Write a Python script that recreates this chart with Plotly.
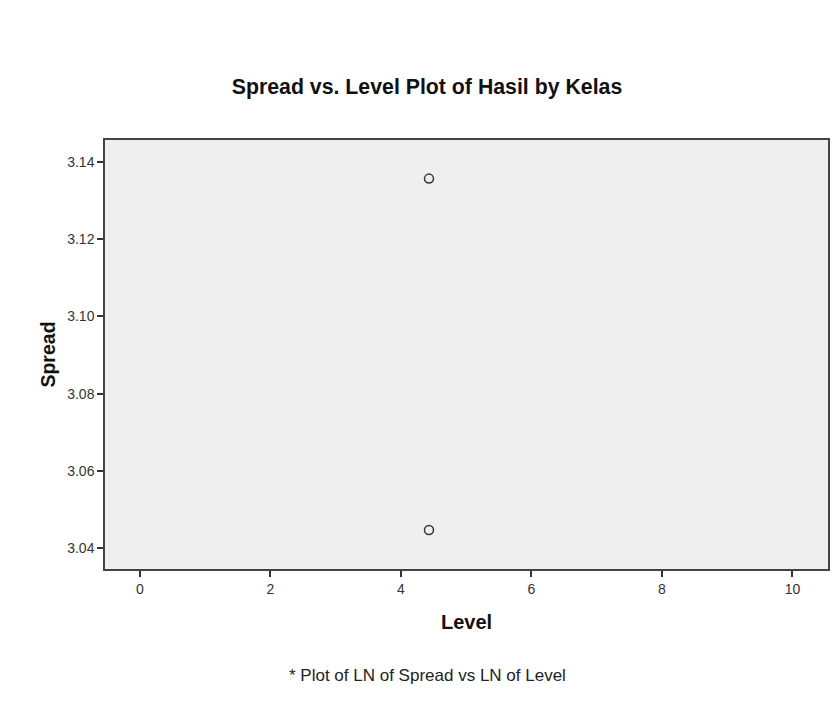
import plotly.graph_objects as go

level = [4.43, 4.43]
spread = [3.1357, 3.0447]
x_ticks = [0, 2, 4, 6, 8, 10]
y_ticks = [3.04, 3.06, 3.08, 3.10, 3.12, 3.14]
y_labels = ["3.04", "3.06", "3.08", "3.10", "3.12", "3.14"]

fig = go.Figure()
fig.add_trace(go.Scatter(
    x=level, y=spread, mode="markers",
    marker=dict(symbol="circle-open", size=9, color="#333333", line=dict(width=1.5, color="#333333")),
    showlegend=False, hoverinfo="skip"))

fig.update_layout(
    width=833, height=702,
    paper_bgcolor="white", plot_bgcolor="#efefef",
    margin=dict(l=105, r=3, t=140, b=133),
    font=dict(family="Liberation Sans, Arial", color="#222222"),
    title=dict(text="<b>Spread vs. Level Plot of Hasil by Kelas</b>", x=427 / 833, xanchor="center",
               y=1 - 87 / 702, yanchor="middle", font=dict(size=21.3, color="#111111")),
    xaxis=dict(range=[-0.535, 10.545], tickvals=x_ticks, ticks="outside", ticklen=6, tickwidth=1.5,
               tickcolor="#333333", showline=True, linecolor="#444444", linewidth=1.5, mirror=True,
               showgrid=False, zeroline=False, tickfont=dict(size=14, color="#333333"),
               title=dict(text="<b>Level</b>", font=dict(size=20, color="#111111"), standoff=19)),
    yaxis=dict(range=[3.0346, 3.1457], tickvals=y_ticks, ticktext=y_labels, ticks="outside", ticklen=6,
               tickwidth=1.5, tickcolor="#333333", showline=True, linecolor="#444444", linewidth=1.5,
               mirror=True, showgrid=False, zeroline=False, tickfont=dict(size=14, color="#333333"),
               title=dict(text="<b>Spread</b>", font=dict(size=19.5, color="#111111"), standoff=6)),
    annotations=[dict(text="* Plot of LN of Spread vs LN of Level", xref="paper", yref="paper",
                      x=(428 - 105) / 725, y=-(675 - 569) / 429, xanchor="center", yanchor="middle",
                      showarrow=False, font=dict(size=17, color="#222222"))],
)

fig.write_html("out.html", config={"displayModeBar": False},
               post_script="document.body.style.margin='0';document.body.style.overflow='hidden';")
